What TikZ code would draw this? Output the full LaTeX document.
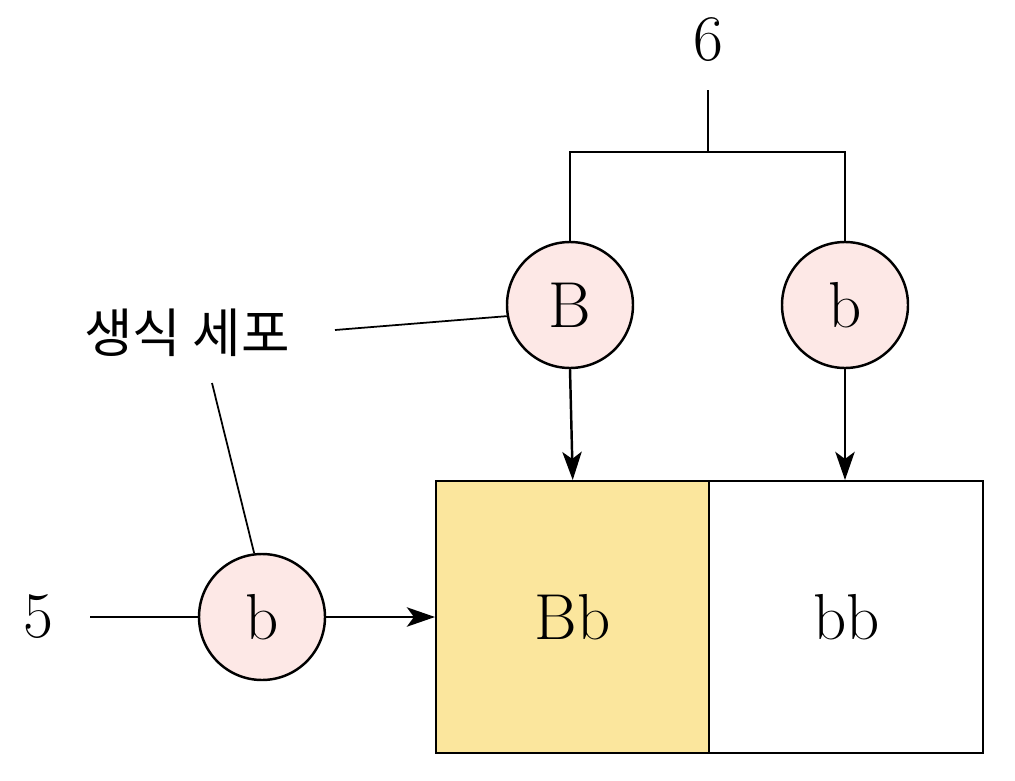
\documentclass[tikz,border=0pt]{standalone}
\usepackage{fontspec}
\newfontfamily\kor{Noto Sans CJK KR}
\usetikzlibrary{arrows.meta}
\begin{document}
\begin{tikzpicture}[x=0.02cm,y=-0.02cm,
  ln/.style={line width=1.4pt},
  ar/.style={ln,-{Stealth[length=16pt,width=11pt,inset=4pt]}},
  cell/.style={circle,draw,line width=1.4pt,fill=cellpink,minimum size=126*0.02cm,inner sep=0pt,font=\fontsize{37}{40}\selectfont},
  big/.style={font=\fontsize{37}{40}\selectfont}]
\definecolor{cellpink}{HTML}{FDE8E6}
\definecolor{boxy}{HTML}{FBE69D}
\useasboundingbox (0,0) rectangle (1015,781);
\node[big] (six) at (708,40) {6};
\node[big] (five) at (38,617) {5};
\node[cell] (B) at (570,305) {B};
\node[cell] (b1) at (845,305) {b};
\node[cell] (b2) at (262,617) {b};
\node[draw,ln,fill=boxy,minimum width=273*0.02cm,minimum height=272*0.02cm,anchor=north west,big] (Bb) at (435,480) {Bb};
\node[draw,ln,minimum width=274*0.02cm,minimum height=272*0.02cm,anchor=north west,big] (bb) at (708,480) {bb};
\node[font=\kor\fontsize{30}{34}\selectfont] (lab) at (187,333) {생식 세포};
\coordinate (t) at (708,90);
\coordinate (m) at (708,152);
\draw[ln] (t) -- (m);
\draw[ln] (B.north) |- (m) -| (b1.north);
\draw[ar] (B.south) -- (Bb.north);
\draw[ar] (b1.south) -- (b1.south |- bb.north);
\coordinate (f) at (90,617);
\draw[ln] (f) -- (b2.west);
\draw[ar] (b2.east) -- (Bb.west |- b2.east);
\coordinate (l1) at (335,330);
\coordinate (l2) at (212,383);
\draw[line width=1pt] (l1) -- (B.190);
\draw[line width=1pt] (l2) -- (b2.97);
\end{tikzpicture}
\end{document}
